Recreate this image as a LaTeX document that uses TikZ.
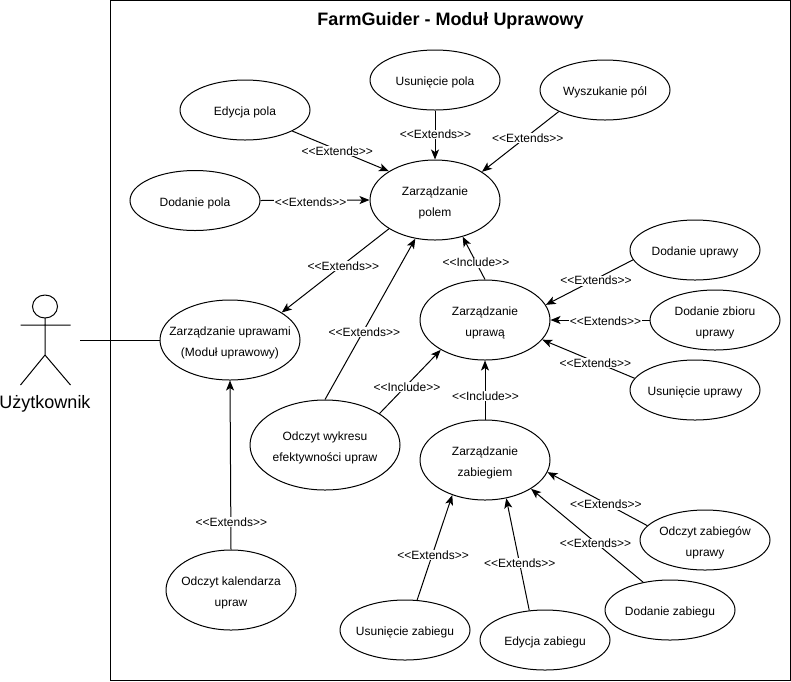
\documentclass[tikz,border=0pt]{standalone}
\usepackage{fontspec}
\usetikzlibrary{shapes.geometric,arrows.meta}
\newfontfamily\diagfont{Liberation Sans}
\tikzset{
  uc/.style={ellipse,draw=black,line width=1pt,fill=white,inner sep=0pt,align=center,
    minimum width=130pt,minimum height=60pt,font=\diagfont\fontsize{12}{21}\selectfont},
  tall/.style={minimum height=80pt},
  rel/.style={draw=black,line width=1pt,-{Stealth[length=10pt,width=8pt,inset=2.5pt]}},
  lab/.style={fill=white,inner sep=0.5pt,font=\diagfont\fontsize{12}{13}\selectfont,xshift=0.5pt,yshift=-1.5pt},
  stick/.style={draw=black,line width=1pt},
}
\newcommand{\ext}{<<Extends>>}
\newcommand{\inc}{<<Include>>}
\newcommand{\tl}[1]{\raisebox{-3pt}[8pt][3pt]{\makebox[0pt][c]{#1}}}
\begin{document}
\begin{tikzpicture}[x=1pt,y=-1pt]
\useasboundingbox (0,0) rectangle (791,681);
\fill[white] (0,0) rectangle (791,681);
\node[draw=black,line width=1pt,minimum width=680pt,minimum height=680pt,inner sep=0pt] (frame) at (450.5,340.5) {};
\node[font=\diagfont\bfseries\fontsize{18}{20}\selectfont] (title) at (450.5,21) {FarmGuider - Moduł Uprawowy};

\node[uc] (usunpola) at (435,80) {\tl{Usunięcie pola}};
\node[uc] (wyszuk) at (605,90) {\tl{Wyszukanie pól}};
\node[uc] (edpola) at (245,110) {\tl{Edycja pola}};
\node[uc] (dodpola) at (195,200.5) {\tl{Dodanie pola}};
\node[uc,tall] (polem) at (435,200) {\tl{Zarządzanie}\\\tl{polem}};
\node[uc,tall,minimum width=140pt] (uprawami) at (230,340) {\tl{Zarządzanie uprawami}\\\tl{(Moduł uprawowy)}};
\node[uc,tall] (uprawa) at (485,320) {\tl{Zarządzanie}\\\tl{uprawą}};
\node[uc] (dodupr) at (695,250) {\tl{Dodanie uprawy}};
\node[uc] (dodzb) at (715,320) {\tl{Dodanie zbioru}\\\tl{uprawy}};
\node[uc] (usunupr) at (695,390) {\tl{Usunięcie uprawy}};
\node[uc,minimum width=150pt,minimum height=90pt] (wykres) at (325,445) {\tl{Odczyt wykresu}\\\tl{efektywności upraw}};
\node[uc,tall] (zabieg) at (485,460) {\tl{Zarządzanie}\\\tl{zabiegiem}};
\node[uc] (odczzab) at (705,540) {\tl{Odczyt zabiegów}\\\tl{uprawy}};
\node[uc] (dodzab) at (670,610) {\tl{Dodanie zabiegu}};
\node[uc] (edzab) at (545,640) {\tl{Edycja zabiegu}};
\node[uc] (usunzab) at (405,630) {\tl{Usunięcie zabiegu}};
\node[uc,tall] (kal) at (231,590) {\tl{Odczyt kalendarza}\\\tl{upraw}};

\draw[stick] (45,306.5) circle[x radius=12.5,y radius=11.5];
\coordinate (neck) at (45,318);
\coordinate (hip) at (45,355);
\coordinate (armL) at (20.5,325);
\coordinate (armR) at (70.5,325);
\coordinate (legL) at (20.5,385);
\coordinate (legR) at (70.5,385);
\coordinate (actorhand) at (80,340);
\draw[stick] (neck) -- (hip) (armL) -- (armR) (legL) -- (hip) -- (legR);
\node[font=\diagfont\fontsize{18}{20}\selectfont] (actor) at (45,403.5) {Użytkownik};
\draw[stick] (actorhand) -- (uprawami.west);

\path[rel] (edpola.-24.5) -- node[lab,pos=.46] {\ext} (polem.148.7);
\path[rel] (dodpola.east) -- node[lab,pos=.455] {\ext} (polem.west);
\path[rel] (usunpola.south) -- node[lab,pos=.46] {\ext} (polem.north);
\path[rel] (wyszuk.205.1) -- node[lab,pos=.41] {\ext} (polem.31.1);
\path[rel] (polem.212.2) -- node[lab,pos=.43] {\ext} (uprawami.28.8);
\path[rel] (wykres.north) -- node[lab,pos=.43] {\ext} (polem.243.4);
\path[rel] (uprawa.north) -- node[lab,pos=.43] {\inc} (polem.307.9);
\path[rel] (dodupr.189) -- node[lab,pos=.43] {\ext} (uprawa.14);
\path[rel] (dodzb.west) -- node[lab,pos=.45] {\ext} (uprawa.east);
\path[rel] (usunupr.169.2) -- node[lab,pos=.43] {\ext} (uprawa.341);
\path[rel] (wykres.30.6) -- node[lab,pos=.44] {\inc} (uprawa.214.3);
\path[rel] (zabieg.north) -- node[lab,pos=.42] {\inc} (uprawa.south);
\path[rel] (odczzab.166.2) -- node[lab,pos=.42] {\ext} (zabieg.349.4);
\path[rel] (dodzab.134.7) -- node[lab,pos=.43] {\ext} (zabieg.328.3);
\path[rel] (edzab.118.9) -- node[lab,pos=.435] {\ext} (zabieg.299);
\path[rel] (usunzab.68.2) -- node[lab,pos=.44] {\ext} (zabieg.227.6);
\path[rel] (kal.north) -- node[lab,pos=.17] {\ext} (uprawami.south);
\end{tikzpicture}
\end{document}
